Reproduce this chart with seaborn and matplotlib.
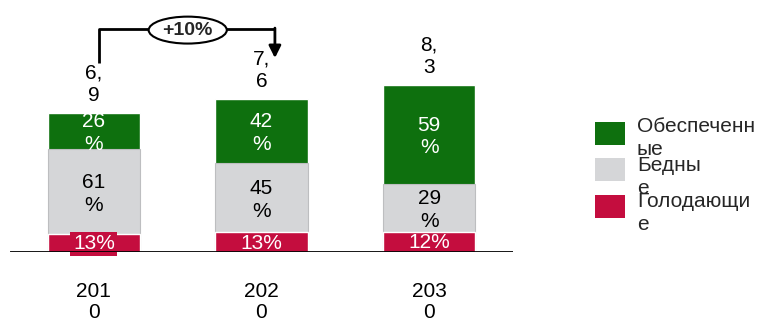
import matplotlib
matplotlib.use("Agg")
import matplotlib.pyplot as plt
from matplotlib.patches import Ellipse, Rectangle
import pandas as pd
import seaborn as sns

sns.set_theme(style="white")
plt.rcParams["font.family"] = ["Liberation Sans", "DejaVu Sans"]

# данные
years = ["2010", "2020", "2030"]
year_labels = ["201\n0", "202\n0", "203\n0"]
totals = [6.9, 7.6, 8.3]
total_labels = ["6,\n9", "7,\n6", "8,\n3"]
hungry = [13, 13, 12]   # Голодающие, %
poor = [61, 45, 29]     # Бедные, %
rich = [26, 42, 59]     # Обеспеченные, %

GREEN = "#0E700E"
GRAY = "#D5D6D8"
RED = "#C40D3E"

df = pd.DataFrame({"year": years, "total": totals, "hungry": hungry, "poor": poor, "rich": rich})
df["h_top"] = df["total"] * df["hungry"] / 100
df["p_top"] = df["total"] * (df["hungry"] + df["poor"]) / 100

W, H = 759, 323
PX = 20.1  # пикселей на единицу
fig = plt.figure(figsize=(W / 100, H / 100), dpi=100)
ax = fig.add_axes([10 / W, (H - 252) / H, 503 / W, 252 / H])

# stacked bars: draw cumulative heights back to front
sns.barplot(data=df, x="year", y="total", color=GREEN, saturation=1, width=0.55, ax=ax)
sns.barplot(data=df, x="year", y="p_top", color=GRAY, saturation=1, width=0.55, ax=ax,
            edgecolor="#BDBEC0", linewidth=0.8)
sns.barplot(data=df, x="year", y="h_top", color=RED, saturation=1, width=0.55, ax=ax)

ax.set_xlim(-0.5, 2.5)
ax.set_ylim(0, 252 / PX)
for s in ax.spines.values():
    s.set_visible(False)
ax.set_yticks([])
ax.set_xticks([])
ax.set_xlabel("")
ax.set_ylabel("")
ax.axhline(0, color="black", lw=2, zorder=5)

fs = 15
for i, row in df.iterrows():
    green_mid = (row["p_top"] + row["total"]) / 2
    gray_mid = (row["h_top"] + row["p_top"]) / 2
    red_mid = row["h_top"] / 2
    ax.text(i, green_mid - 0.1, f"{row['rich']}\n%", ha="center", va="center",
            color="white", fontsize=fs, linespacing=1.25)
    ax.text(i, gray_mid - 0.1, f"{row['poor']}\n%", ha="center", va="center",
            color="black", fontsize=fs, linespacing=1.25)
    bbox = dict(boxstyle="square,pad=0.12", fc=RED, ec="none") if i == 0 else None
    ax.text(i, red_mid - 0.05, f"{row['hungry']}%", ha="center", va="center",
            color="white", fontsize=fs, bbox=bbox, zorder=4)
    ax.text(i, row["total"] + 1.45, total_labels[i], ha="center", va="center",
            color="black", fontsize=fs, linespacing=1.25)
    # подписи годов
    ax.text(i, -50 / PX, year_labels[i], ha="center", va="center",
            color="black", fontsize=fs, linespacing=1.15, clip_on=False)

# стрелка роста +10%
ax.plot([0.03, 0.03, 1.08], [9.4, 11.09, 11.09], color="black", lw=2,
        clip_on=False, solid_capstyle="butt", zorder=6)
ax.annotate("", xy=(1.08, 9.65), xytext=(1.08, 11.14),
            arrowprops=dict(arrowstyle="-|>", color="black", lw=2, mutation_scale=18,
                            shrinkA=0, shrinkB=0), zorder=6)
ax.add_patch(Ellipse((0.56, 11.04), 0.466, 1.34, fc="white", ec="black", lw=1.5,
                     clip_on=False, zorder=7))
ax.text(0.56, 11.04, "+10%", ha="center", va="center", fontsize=14,
        fontweight="bold", zorder=8)

# легенда
legend_items = [
    (GREEN, "Обеспеченн\nые", 122, 138),
    (GRAY, "Бедны\nе", 158, 177),
    (RED, "Голодающи\nе", 195, 213),
]
for color, label, top, ty in legend_items:
    fig.patches.append(Rectangle((595 / W, 1 - (top + 23) / H), 30 / W, 23 / H,
                                 transform=fig.transFigure, fc=color, ec="none"))
    fig.text(637 / W, 1 - ty / H, label, ha="left", va="center", fontsize=fs,
             linespacing=1.22)

fig.savefig("out.png", dpi=100)
